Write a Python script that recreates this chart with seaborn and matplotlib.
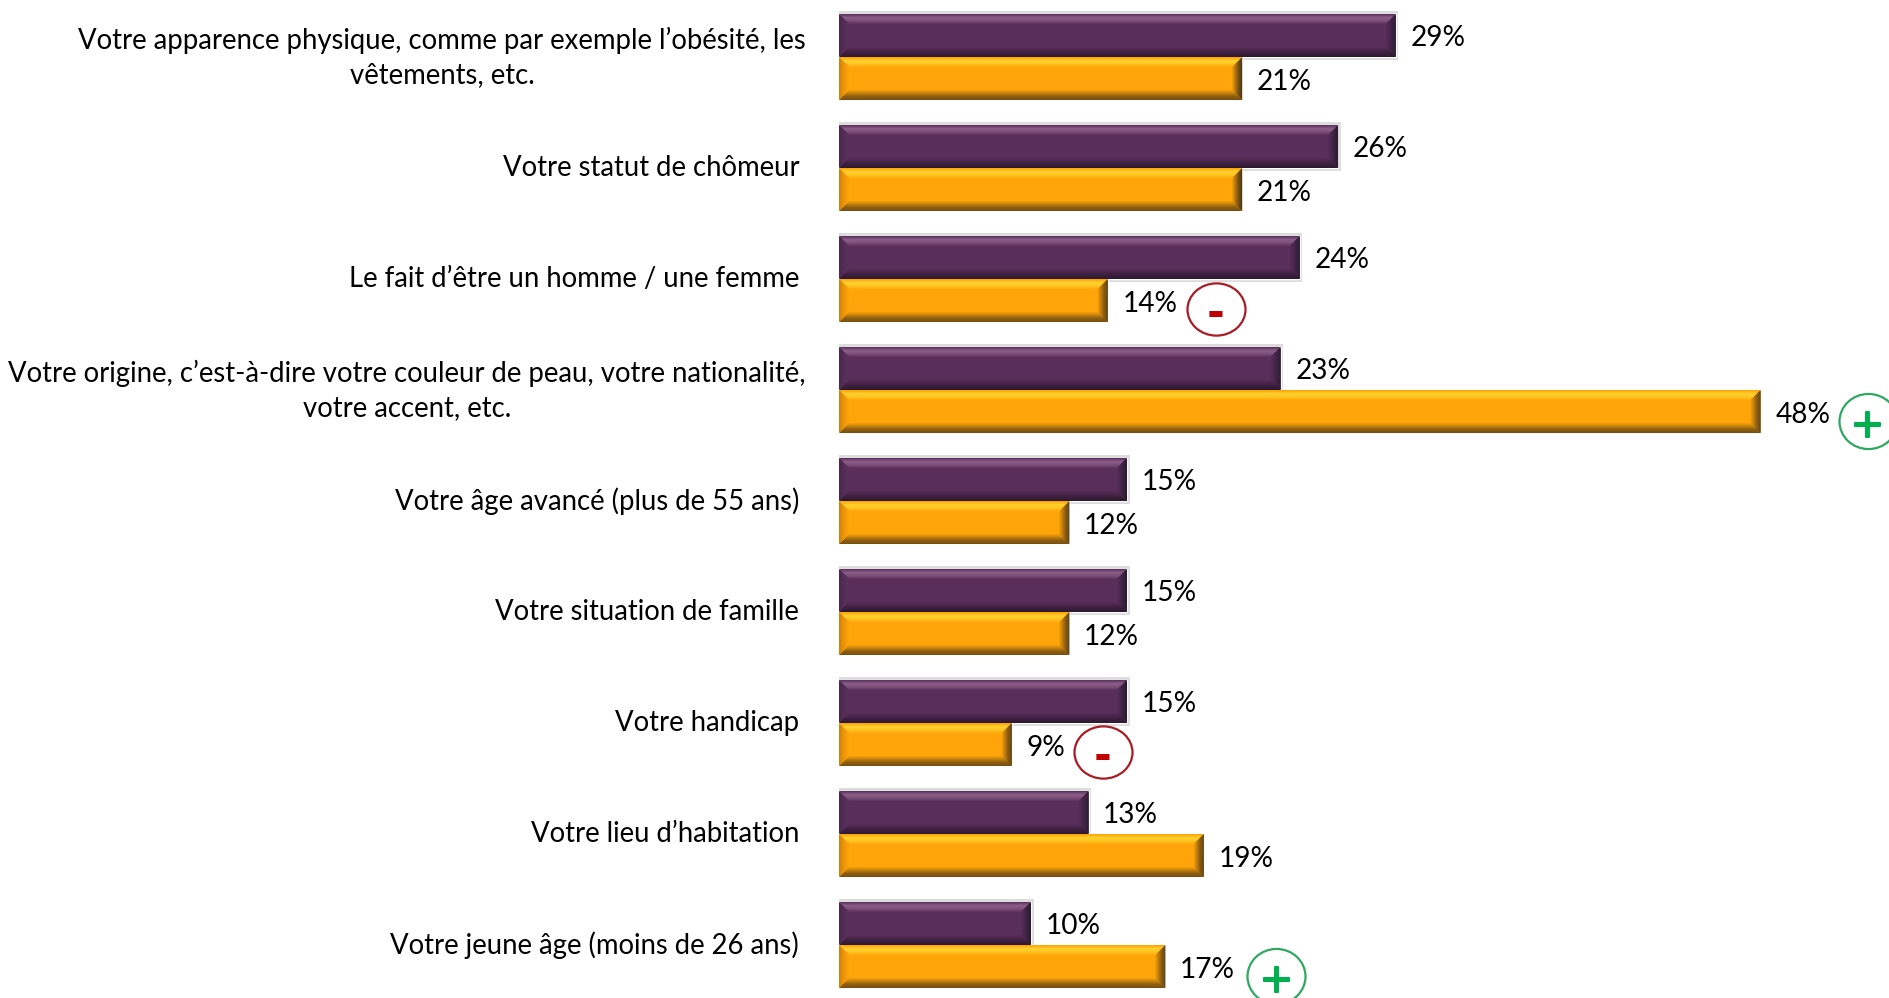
import numpy as np
import pandas as pd
import matplotlib
matplotlib.use("Agg")
import matplotlib.pyplot as plt
import matplotlib.colors as mc
import matplotlib.patheffects as pe
from matplotlib.collections import PolyCollection
from matplotlib.patches import Rectangle
from matplotlib.path import Path
from matplotlib.transforms import Affine2D
import seaborn as sns

# data ------------------------------------------------
categories = [
    "Votre apparence physique, comme par exemple l’obésité, les\nvêtements, etc.",
    "Votre statut de chômeur",
    "Le fait d’être un homme / une femme",
    "Votre origine, c’est-à-dire votre couleur de peau, votre nationalité,\nvotre accent, etc.",
    "Votre âge avancé (plus de 55 ans)",
    "Votre situation de famille",
    "Votre handicap",
    "Votre lieu d’habitation",
    "Votre jeune âge (moins de 26 ans)",
]
values_a = [29, 26, 24, 23, 15, 15, 15, 13, 10]
values_b = [21, 21, 14, 48, 12, 12, 9, 19, 17]
# significance badges on the second series
badge_cat = [2, 3, 6, 8]
badge_sign = ["-", "+", "-", "+"]

# layout ----------------------------------------------
W, H = 1889, 998
X0 = 839          # px of the zero line
PX_PER_UNIT = 19.2
GROUP_STEP = 111  # px between groups
FIRST_GROUP = 57  # px of first group centre
sx = 1 / PX_PER_UNIT
sy = 1 / GROUP_STEP
BADGE_DX = [108, 107, 91, 111]  # px from bar end to badge centre
BADGE_DY = [8.5, 9.6, 7, 9.6]

sns.set_theme(style="white")
plt.rcParams["font.family"] = ["Lato", "DejaVu Sans"]

df = pd.DataFrame({
    "cat": categories * 2,
    "val": values_a + values_b,
    "serie": ["a"] * 9 + ["b"] * 9,
})

fig = plt.figure(figsize=(W / 100, H / 100), dpi=100)
ax = fig.add_axes([X0 / W, 0, 1 - X0 / W, 1])
sns.barplot(data=df, y="cat", x="val", hue="serie", hue_order=["a", "b"],
            palette=["#5A2E5A", "#FFA409"], order=categories, saturation=1,
            width=0.775, gap=0, dodge=True, legend=False, ax=ax, zorder=3)
ax.set_xlim(0, (W - X0) * sx)
ax.set_ylim((H - FIRST_GROUP) * sy, -FIRST_GROUP * sy)
ax.set_xlabel("")
ax.set_ylabel("")
ax.set_xticks([])
sns.despine(ax=ax, left=True, bottom=True, right=True, top=True)
ax.patch.set_alpha(0)
ax.tick_params(axis="y", length=0)
for lab, tick, c in zip(ax.get_yticklabels(), ax.yaxis.get_major_ticks(), categories):
    lab.set_fontsize(19.8)
    lab.set_color("black")
    lab.set_multialignment("center")
    lab.set_linespacing(1.39)
    lab.set_verticalalignment("center")
    tick.set_pad(23.7 if "\n" in c else 28.7)


def ramp(cols, n):
    rgb = np.array([mc.to_rgb(c) for c in cols])
    t = np.linspace(0, len(cols) - 1, n)
    return [tuple(np.interp(v, range(len(cols)), rgb[:, i]) for i in range(3)) for v in t]


# bevel colours, outer edge to inner edge
BEVELS = {
    0: dict(top=["#5E3560", "#8C5F88", "#7A4C78", "#5A2E5A"],
            bottom=["#2E1A30", "#3A1E3C", "#4A254A", "#5A2E5A"],
            right=["#2A1C2E", "#3A2240", "#4A2850", "#5A2E5A"],
            left=["#4A2650", "#522A56", "#5A2E5A", "#5A2E5A"],
            halo="#DCDCDC"),
    1: dict(top=["#FFA409", "#FFD22E", "#FFC21E", "#FFA409"],
            bottom=["#7A5012", "#8F5E10", "#C9850C", "#FFA409"],
            right=["#4E3A1A", "#7A5012", "#B87A0E", "#FFA409"],
            left=["#D08208", "#E8900A", "#F59C08", "#FFA409"],
            halo=None),
}
BEVEL_PX = 11


def bevel(bar, st):
    x0, w = bar.get_x(), bar.get_width()
    y0, h = bar.get_y(), bar.get_height()
    x1, y1 = x0 + w, y0 + h
    polys, cols = [], []
    for side in ("top", "bottom", "left", "right"):
        for k, col in enumerate(ramp(st[side], BEVEL_PX)):
            a, b = k, k + 1.2
            ax0, bx0 = x0 + a * sx, x0 + b * sx
            ax1, bx1 = x1 - a * sx, x1 - b * sx
            ay0, by0 = y0 + a * sy, y0 + b * sy
            ay1, by1 = y1 - a * sy, y1 - b * sy
            if side == "top":
                p = [(ax0, ay0), (ax1, ay0), (bx1, by0), (bx0, by0)]
            elif side == "bottom":
                p = [(ax0, ay1), (ax1, ay1), (bx1, by1), (bx0, by1)]
            elif side == "left":
                p = [(ax0, ay0), (ax0, ay1), (bx0, by1), (bx0, by0)]
            else:
                p = [(ax1, ay0), (ax1, ay1), (bx1, by1), (bx1, by0)]
            polys.append(p)
            cols.append(col)
    ax.add_collection(PolyCollection(polys, facecolors=cols, edgecolors="none", zorder=4))
    if st["halo"]:
        ax.add_patch(Rectangle((x0, y0 - 2.5 * sy), w + 2.5 * sx, h + 5 * sy,
                               fc=st["halo"], ec="none", zorder=2))


for idx, cont in enumerate(ax.containers):
    for bar in cont:
        bevel(bar, BEVELS[idx])

for idx, cont in enumerate(ax.containers):
    anns = ax.bar_label(cont, fmt="%d%%", padding=10.5, fontsize=20.2, color="black", zorder=6)
    for a in anns:
        a.xyann = (a.xyann[0], a.xyann[1] - (2 if idx == 0 else 2.4))

# badges next to the labels of the second series
orange = ax.containers[1]
for c, sign, dx, dy in zip(badge_cat, badge_sign, BADGE_DX, BADGE_DY):
    bar = orange[c]
    xc = bar.get_width() + dx * sx
    yc = bar.get_y() + bar.get_height() / 2 + dy * sy
    plus = sign == "+"
    col = "#2FA860" if plus else "#A81C24"
    txt = "#00B050" if plus else "#C00000"
    # badges are a little flatter than round
    oval = Path.unit_circle().transformed(Affine2D().scale(1, 0.95 if plus else 0.9))
    ax.scatter([xc], [yc], s=1745, marker=oval, facecolor="white", edgecolor=col,
               linewidth=1.6, zorder=7, clip_on=False)
    t = ax.text(xc, yc + 5 * sy, sign, color=txt, fontsize=31 if not plus else 29,
                fontweight="normal" if plus else "bold",
                ha="center", va="center", family="DejaVu Sans", zorder=8)
    if plus:
        t.set_path_effects([pe.withStroke(linewidth=1.5, foreground=txt)])

fig.savefig("out.png", dpi=100, facecolor="white")
